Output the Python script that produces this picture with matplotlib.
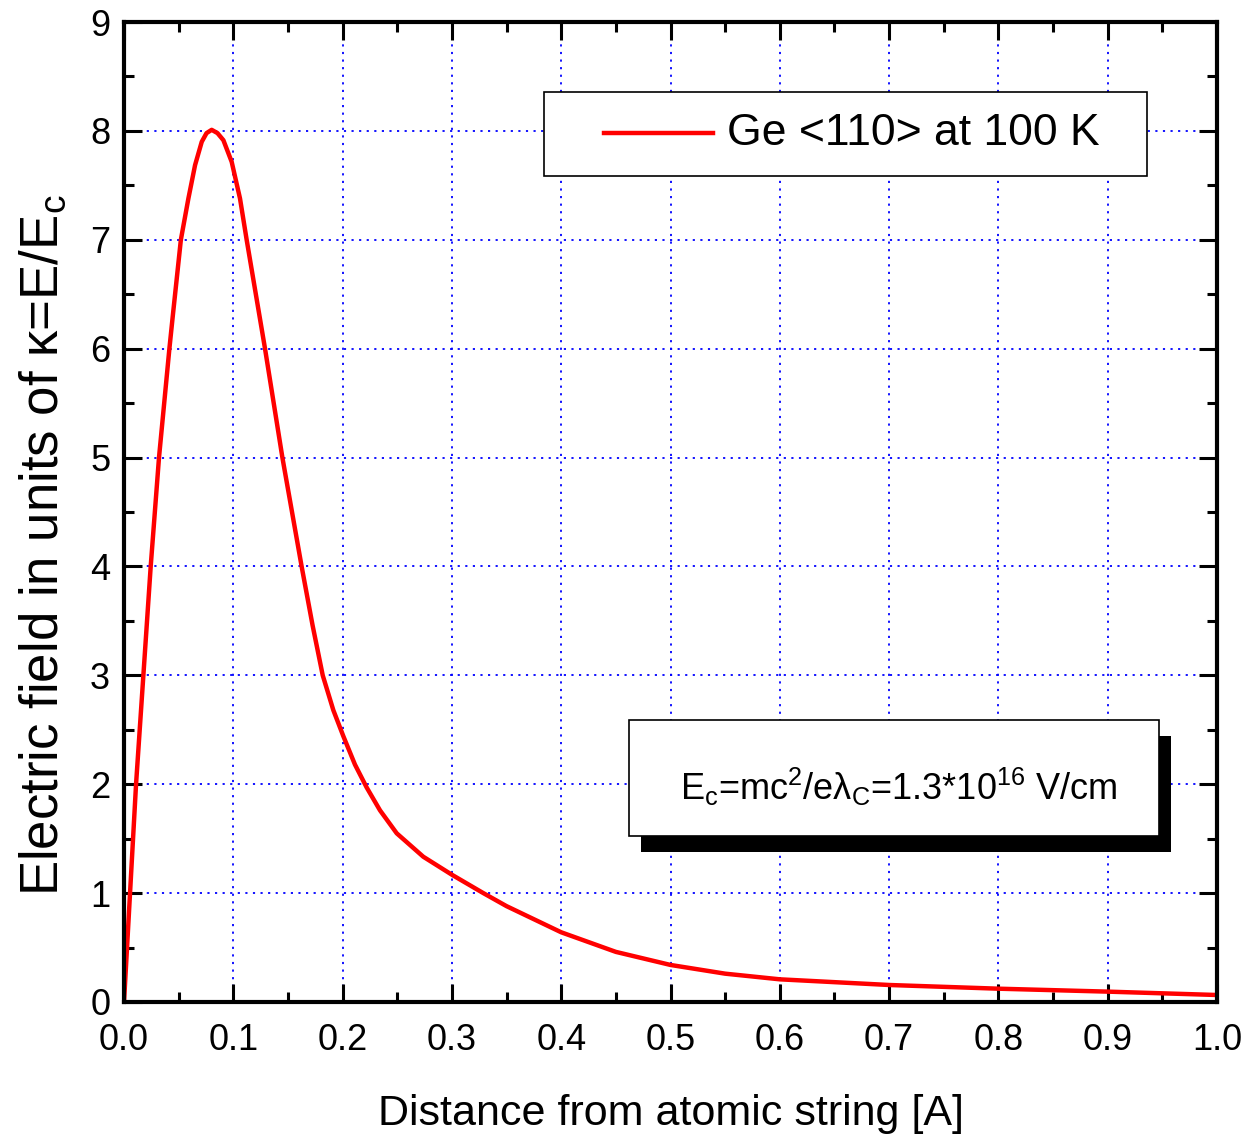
import matplotlib
matplotlib.use("Agg")
import matplotlib.pyplot as plt
from matplotlib.patches import Rectangle
from matplotlib.lines import Line2D
from matplotlib.ticker import MultipleLocator, FormatStrFormatter

# values
distance = [0.0, 0.0055, 0.011, 0.0177, 0.0244, 0.032, 0.0415, 0.0445, 0.052,
            0.0589, 0.065, 0.0711, 0.0755, 0.0802, 0.0855, 0.0909, 0.0985,
            0.1061, 0.1122, 0.129, 0.1449, 0.1625, 0.1725, 0.1818, 0.1915,
            0.2007, 0.2113, 0.222, 0.2342, 0.2495, 0.2738, 0.3004, 0.3287,
            0.35, 0.4, 0.45, 0.5, 0.55, 0.6, 0.7, 0.8, 0.9, 1.0]
field = [0.0, 1.0, 2.0, 3.0, 4.0, 5.0, 6.0, 6.29, 7.0,
         7.38, 7.686, 7.90, 7.98, 8.01, 7.98, 7.915, 7.716,
         7.38, 7.0, 6.0, 5.0, 4.0, 3.46, 3.0, 2.68,
         2.44, 2.18, 1.97, 1.76, 1.549, 1.334, 1.166, 1.0,
         0.88, 0.64, 0.46, 0.34, 0.26, 0.208, 0.156, 0.122, 0.095, 0.064]

series_label = "Ge <110> at 100 K"
note_text = r"E$_\mathregular{c}$=mc$^\mathregular{2}$/eλ$_\mathregular{C}$=1.3*10$^\mathregular{16}$ V/cm"

plt.rcParams["font.family"] = ["Liberation Sans", "DejaVu Sans"]

fig = plt.figure(figsize=(12.44, 11.48), dpi=100)
ax = fig.add_axes([0.0997, 0.1272, 0.8786, 0.8536])

ax.plot(distance, field, color="#ff0000", lw=3.2,
        solid_joinstyle="round", solid_capstyle="round")

ax.set_xlim(0, 1.0)
ax.set_ylim(0, 9)
ax.xaxis.set_major_locator(MultipleLocator(0.1))
ax.xaxis.set_minor_locator(MultipleLocator(0.05))
ax.xaxis.set_major_formatter(FormatStrFormatter("%.1f"))
ax.yaxis.set_major_locator(MultipleLocator(1))
ax.yaxis.set_minor_locator(MultipleLocator(0.5))

ax.grid(True, which="major", color="#0000ff", linestyle=(0, (1.2, 3)), lw=1.3)
ax.tick_params(which="both", direction="in", top=True, right=True, width=2.2)
ax.tick_params(which="major", length=13, labelsize=26)
ax.tick_params(which="minor", length=7)
ax.tick_params(axis="x", pad=15)
ax.tick_params(axis="y", pad=10)
for s in ax.spines.values():
    s.set_linewidth(3)

ax.set_xlabel("Distance from atomic string [A]", fontsize=31, labelpad=26)
ax.set_ylabel(r"Electric field in units of κ=E/E$_\mathregular{c}$", fontsize=38)
ax.yaxis.set_label_coords(-0.05, 0.466)

# legend box
ax.add_patch(Rectangle((0.3843, 0.8429), 0.5517, 0.0857, transform=ax.transAxes,
                       facecolor="white", edgecolor="black", lw=1.2, zorder=5))
ax.add_line(Line2D([0.4391, 0.5389], [0.8867, 0.8867], transform=ax.transAxes,
                   color="#ff0000", lw=3.2, zorder=6))
ax.text(0.5517, 0.8867, series_label, transform=ax.transAxes, fontsize=32,
        ha="left", va="center", zorder=6)

# note box with shadow
ax.add_patch(Rectangle((0.462 + 0.011, 0.1694 - 0.0163), 0.485, 0.1184,
                       transform=ax.transAxes, facecolor="black",
                       edgecolor="black", lw=0, zorder=5))
ax.add_patch(Rectangle((0.462, 0.1694), 0.485, 0.1184, transform=ax.transAxes,
                       facecolor="white", edgecolor="black", lw=1.2, zorder=6))
ax.text(0.7086, 0.2061, note_text, transform=ax.transAxes, fontsize=26,
        ha="center", va="baseline", zorder=7)

fig.savefig("out.png", dpi=100)
